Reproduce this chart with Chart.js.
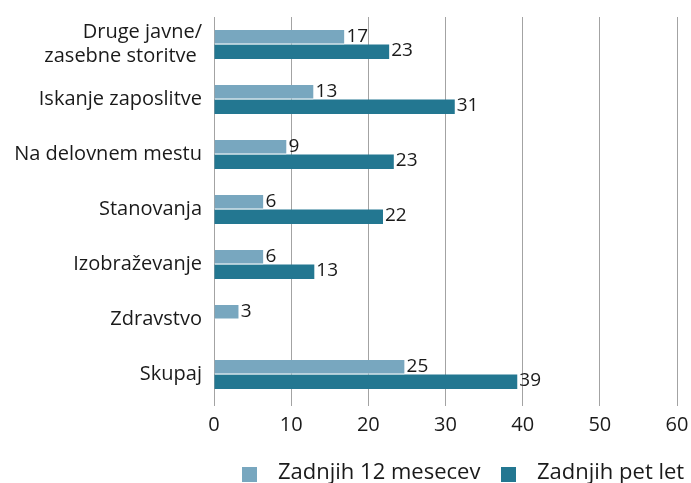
<!DOCTYPE html>
<html>
<head>
<meta charset="utf-8">
<script src="https://cdn.jsdelivr.net/npm/chart.js@4/dist/chart.umd.min.js"></script>
<style>
html,body{margin:0;padding:0;background:#fff;}
#wrap{width:691px;height:483px;position:relative;}
</style>
</head>
<body>
<div id="wrap"><canvas id="c" width="691" height="483"></canvas></div>
<script>
const categories = [["Druge javne/", "zasebne storitve "], "Iskanje zaposlitve", "Na delovnem mestu", "Stanovanja", "Izobraževanje", "Zdravstvo", "Skupaj"];
const seriesNames = ["Zadnjih 12 mesecev", "Zadnjih pet let"];
const last12Months = [16.9, 12.9, 9.4, 6.4, 6.4, 3.2, 24.7];
const last5Years = [22.7, 31.2, 23.3, 21.9, 13.0, null, 39.3];
const xTicks = [0, 10, 20, 30, 40, 50, 60];
const seriesColors = ['#78a7bf', '#237791'];

const FONT = "'Open Sans', sans-serif";
const TXT = "#1a1a1a";

const valueLabels = {
  id: 'valueLabels',
  afterDatasetsDraw(chart) {
    const ctx = chart.ctx;
    ctx.save();
    ctx.font = "19px " + FONT;
    ctx.fillStyle = TXT;
    ctx.textBaseline = "middle";
    ctx.textAlign = "left";
    chart.data.datasets.forEach((ds, di) => {
      const meta = chart.getDatasetMeta(di);
      meta.data.forEach((el, i) => {
        const v = ds.data[i];
        if (v === null || v === undefined) return;
        ctx.fillText(String(Math.round(v)), el.x + 2, el.y - 1);
      });
    });
    ctx.restore();
  }
};

const bottomLegend = {
  id: 'bottomLegend',
  afterDraw(chart) {
    const ctx = chart.ctx;
    const left = chart.chartArea.left;
    const y = 474;
    const items = [
      { text: seriesNames[0], color: seriesColors[0], x: left + 28 },
      { text: seriesNames[1], color: seriesColors[1], x: left + 287 }
    ];
    ctx.save();
    ctx.font = "22px " + FONT;
    ctx.textBaseline = "middle";
    ctx.textAlign = "left";
    items.forEach(it => {
      ctx.fillStyle = it.color;
      ctx.fillRect(it.x, y - 7, 15, 15);
      ctx.fillStyle = TXT;
      ctx.fillText(it.text, it.x + 36, y - 1);
    });
    ctx.restore();
  }
};

new Chart(document.getElementById('c'), {
  type: 'bar',
  data: {
    labels: categories,
    datasets: [
      { label: seriesNames[0], data: last12Months, backgroundColor: seriesColors[0], borderColor: '#ffffff', borderWidth: {top:0,bottom:1,left:0,right:0}, borderSkipped: false, categoryPercentage: 0.527, barPercentage: 1 },
      { label: seriesNames[1], data: last5Years, backgroundColor: seriesColors[1], borderWidth: 0, categoryPercentage: 0.527, barPercentage: 1 }
    ]
  },
  options: {
    indexAxis: 'y',
    responsive: false,
    animation: false,
    layout: { padding: { top: 17, right: 14, left: 0, bottom: 46 } },
    scales: {
      x: {
        min: 0, max: 60,
        afterBuildTicks(scale) { scale.ticks = xTicks.map(v => ({ value: v })); },
        afterFit(scale) { scale.paddingLeft = 0; scale.paddingRight = 0; scale.height = 35; },
        grid: { color: '#a3a3a3', lineWidth: 1, drawTicks: true, tickLength: 4 },
        border: { display: false },
        ticks: { color: TXT, font: { family: FONT, size: 20 }, padding: 7 }
      },
      y: {
        grid: { display: false, drawTicks: false },
        border: { display: false },
        ticks: { color: TXT, font: { family: FONT, size: 20 }, padding: 12 },
        afterFit(scale) { scale.width = 214; scale.paddingTop = 0; scale.paddingBottom = 0; }
      }
    },
    plugins: {
      legend: { display: false },
      tooltip: { enabled: false }
    }
  },
  plugins: [valueLabels, bottomLegend]
});
</script>
</body>
</html>
